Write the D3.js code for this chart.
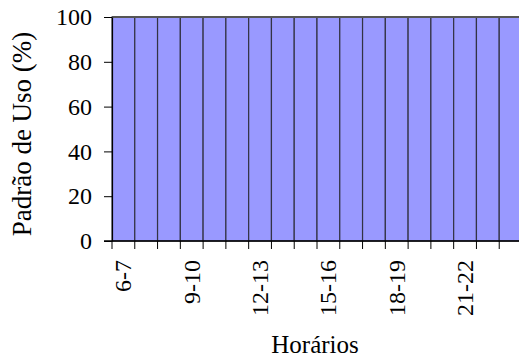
<!DOCTYPE html>
<html>
<head>
<meta charset="utf-8">
<script src="https://cdn.jsdelivr.net/npm/d3@7"></script>
<style>
  html, body { margin: 0; padding: 0; background: #fff; }
</style>
</head>
<body>
<svg id="chart" width="519" height="359" font-family="Liberation Serif"></svg>
<script>
// Hourly time slots and their usage share (%)
const horarios = ["6-7","7-8","8-9","9-10","10-11","11-12","12-13","13-14","14-15",
                  "15-16","16-17","17-18","18-19","19-20","20-21","21-22","22-23","23-24"];
const padraoUso = [100,100,100,100,100,100,100,100,100,100,100,100,100,100,100,100,100,100];
const yTicks = [0, 20, 40, 60, 80, 100];
const shownLabels = ["6-7","9-10","12-13","15-16","18-19","21-22"];

const FONT = "Liberation Serif";

const svg = d3.select("#chart");
const margin = { top: 17, right: -3, bottom: 118, left: 112 };
const W = 519, H = 359;
const innerW = W - margin.left - margin.right;
const innerH = H - margin.top - margin.bottom;

const g = svg.append("g").attr("transform", `translate(${margin.left},${margin.top})`);

const x = d3.scaleBand().domain(horarios).range([0, innerW]).padding(0);
const y = d3.scaleLinear().domain([0, 100]).range([innerH, 0]);

// Bars
g.selectAll("rect.bar")
  .data(horarios.map((h, i) => ({ h, v: padraoUso[i] })))
  .join("rect")
  .attr("class", "bar")
  .attr("x", d => x(d.h))
  .attr("y", d => y(d.v))
  .attr("width", x.bandwidth())
  .attr("height", d => y(0) - y(d.v))
  .attr("fill", "#9999FF")
  .attr("stroke", "#333344")
  .attr("stroke-width", 1.2);

// Top edge of the bars
g.append("line")
  .attr("x1", 0).attr("x2", innerW)
  .attr("y1", y(100)).attr("y2", y(100))
  .attr("stroke", "#555").attr("stroke-width", 2);

// Y axis
const yAxis = g.append("g")
  .call(d3.axisLeft(y).tickValues(yTicks).tickSize(8).tickPadding(12).tickSizeOuter(0))
  .attr("font-family", FONT).attr("font-size", 24);
yAxis.select(".domain").attr("stroke", "#000").attr("stroke-width", 1.2);
yAxis.selectAll(".tick line").attr("stroke", "#000");
yAxis.selectAll("text")
  .attr("font-family", FONT).attr("font-size", 24).attr("fill", "#000");

// X axis: ticks on band boundaries, labels on band centres
const xAxisG = g.append("g").attr("transform", `translate(0,${innerH})`);
xAxisG.append("line")
  .attr("x1", -8).attr("x2", innerW)
  .attr("y1", 0).attr("y2", 0)
  .attr("stroke", "#000").attr("stroke-width", 1.5);
xAxisG.selectAll("line.tick")
  .data(horarios)
  .join("line")
  .attr("class", "tick")
  .attr("x1", d => x(d)).attr("x2", d => x(d))
  .attr("y1", 0).attr("y2", 8)
  .attr("stroke", "#000");
xAxisG.selectAll("text.lbl")
  .data(shownLabels)
  .join("text")
  .attr("class", "lbl")
  .attr("transform", d => `translate(${x(d) + x.bandwidth() / 2 + 8},19) rotate(-90)`)
  .attr("text-anchor", "end")
  .attr("font-family", FONT).attr("font-size", 24)
  .text(d => d);

// Axis titles
svg.append("text")
  .attr("transform", `translate(31,134) rotate(-90)`)
  .attr("text-anchor", "middle")
  .attr("font-family", FONT).attr("font-size", 27)
  .text("Padrão de Uso (%)");

svg.append("text")
  .attr("x", 315).attr("y", 353)
  .attr("text-anchor", "middle")
  .attr("font-family", FONT).attr("font-size", 25)
  .text("Horários");
</script>
</body>
</html>
